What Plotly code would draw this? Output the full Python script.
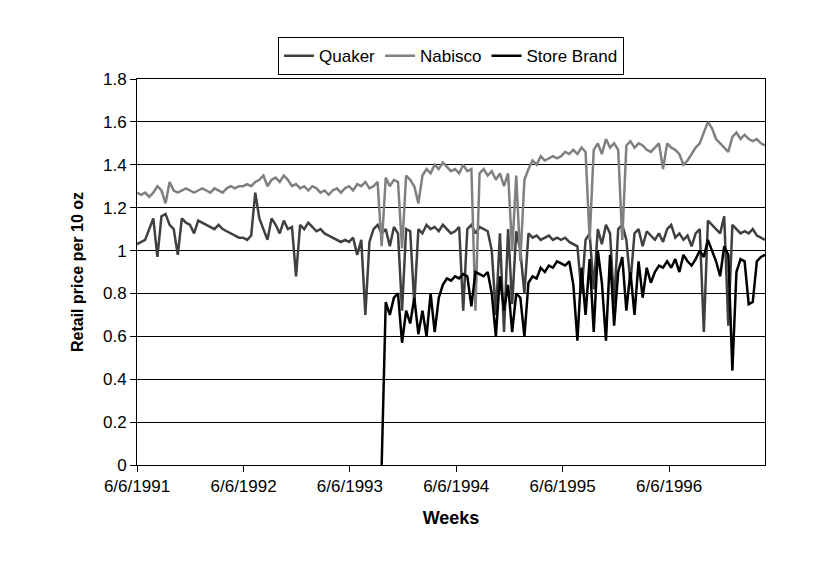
import plotly.graph_objects as go
import datetime as dt

start = dt.date(1991, 6, 6)
quaker = [1.03,1.04,1.05,1.10,1.15,0.97,1.16,1.17,1.12,1.10,0.98,1.15,1.13,1.12,1.08,1.14,1.13,1.12,1.11,1.10,1.12,1.10,1.09,1.08,1.07,1.06,
 1.06,1.05,1.07,1.27,1.15,1.10,1.05,1.15,1.12,1.08,1.14,1.10,1.11,0.88,1.12,1.10,1.13,1.11,1.09,1.10,1.08,1.07,1.06,1.05,1.04,1.05,
 1.04,1.06,0.98,1.05,0.70,1.04,1.10,1.12,1.08,1.10,1.02,1.11,1.08,0.72,1.10,1.09,0.75,1.10,1.08,1.12,1.10,1.11,1.09,1.12,1.10,1.08,
 1.09,1.11,0.72,1.10,1.12,1.08,1.11,1.10,1.09,1.00,0.70,1.08,0.62,1.10,0.75,1.09,1.00,0.80,1.08,1.06,1.07,1.05,1.06,1.07,1.05,1.06,
 1.05,1.06,1.04,1.03,1.02,0.80,1.05,1.08,0.82,1.10,1.03,1.12,1.08,0.75,1.10,1.12,1.05,0.85,1.08,1.10,1.02,1.09,1.07,1.05,1.08,1.04,
 1.10,1.12,1.06,1.08,1.05,1.07,1.02,1.08,1.10,0.62,1.14,1.12,1.10,1.08,1.16,0.65,1.12,1.10,1.08,1.09,1.08,1.10,1.07,1.06,1.05]
nabisco = [1.27,1.26,1.27,1.25,1.27,1.30,1.28,1.22,1.32,1.28,1.27,1.28,1.29,1.28,1.27,1.28,1.29,1.28,1.27,1.29,1.28,1.27,1.29,1.30,1.29,1.30,
 1.30,1.31,1.30,1.32,1.33,1.35,1.30,1.33,1.34,1.32,1.35,1.33,1.30,1.31,1.29,1.30,1.28,1.30,1.29,1.27,1.28,1.26,1.28,1.29,1.27,1.29,
 1.30,1.28,1.31,1.30,1.32,1.29,1.30,1.32,1.02,1.34,1.30,1.33,1.32,1.01,1.35,1.33,1.30,1.22,1.35,1.38,1.36,1.40,1.38,1.41,1.39,1.37,
 1.38,1.36,1.40,1.37,1.38,0.72,1.36,1.38,1.35,1.37,1.33,1.36,1.30,1.36,1.00,1.35,0.95,1.33,1.38,1.42,1.40,1.44,1.42,1.43,1.44,1.43,
 1.44,1.46,1.45,1.47,1.45,1.48,1.46,1.05,1.47,1.50,1.45,1.52,1.48,1.50,1.47,1.05,1.49,1.51,1.48,1.50,1.49,1.47,1.46,1.48,1.50,1.38,
 1.50,1.48,1.47,1.45,1.40,1.42,1.45,1.48,1.50,1.55,1.60,1.57,1.52,1.50,1.48,1.46,1.53,1.55,1.52,1.54,1.52,1.51,1.52,1.50,1.49]
store = [None]*60 + [0.0,0.76,0.70,0.78,0.80,0.57,0.72,0.66,0.78,0.61,0.72,0.60,0.80,0.62,0.78,0.84,0.87,0.86,
 0.88,0.87,0.89,0.88,0.74,0.90,0.89,0.88,0.90,0.80,0.60,0.88,0.72,0.84,0.62,0.80,0.78,0.60,0.85,0.88,0.87,0.92,0.90,0.93,0.92,0.95,
 0.94,0.93,0.95,0.84,0.58,0.92,0.70,0.96,0.62,1.00,0.85,0.58,0.98,0.65,0.90,0.97,0.72,0.90,0.70,0.95,0.78,0.92,0.85,0.90,0.93,0.92,
 0.95,0.92,0.96,0.90,0.98,0.95,0.93,0.96,1.00,0.97,1.05,1.00,0.95,0.88,1.02,0.98,0.44,0.90,0.96,0.95,0.75,0.76,0.95,0.97,0.98]
dates = [start + dt.timedelta(days=14*i) for i in range(len(quaker))]
tick_dates = [dt.date(y, 6, 6) for y in range(1991, 1997)]
tick_text = [f"6/6/{y}" for y in range(1991, 1997)]
y_ticks = [0, 0.2, 0.4, 0.6, 0.8, 1, 1.2, 1.4, 1.6, 1.8]

fig = go.Figure()
fig.add_trace(go.Scatter(x=dates, y=quaker, name="Quaker", mode="lines", line=dict(color="#404040", width=2.5)))
fig.add_trace(go.Scatter(x=dates, y=nabisco, name="Nabisco", mode="lines", line=dict(color="#808080", width=2.5)))
fig.add_trace(go.Scatter(x=dates, y=store, name="Store Brand", mode="lines", line=dict(color="#000000", width=2.5)))
fig.update_layout(
    width=820, height=581, paper_bgcolor="white", plot_bgcolor="white",
    margin=dict(l=129, r=63, t=71, b=124, autoexpand=False),
    font=dict(family="Liberation Sans, Arial", size=17, color="black"),
    legend=dict(orientation="h", x=0.5, xanchor="center", y=1.01, yanchor="bottom",
                bordercolor="black", borderwidth=1, font=dict(size=17), itemwidth=30),
    xaxis=dict(range=[start, dates[-1]], tickvals=tick_dates, ticktext=tick_text, ticks="outside",
               ticklen=6, tickcolor="black", showgrid=False, showline=True, linecolor="black",
               mirror=True, title=dict(text="<b>Weeks</b>", font=dict(size=18))),
    yaxis=dict(range=[0, 1.8], tickvals=y_ticks, ticktext=[f"{v:g}" for v in y_ticks], ticks="outside",
               ticklen=6, tickcolor="black", showgrid=True, gridcolor="black", gridwidth=1,
               showline=True, linecolor="black", mirror=True,
               title=dict(text="<b>Retail price per 10 oz</b>", font=dict(size=16))),
)
fig.write_html("out.html")
